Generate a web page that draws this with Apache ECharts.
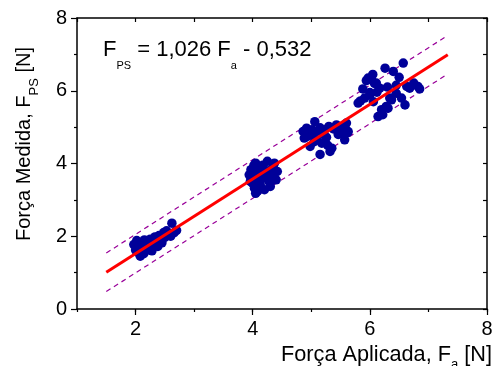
<!DOCTYPE html>
<html>
<head>
<meta charset="utf-8">
<script src="https://cdn.jsdelivr.net/npm/echarts@6/dist/echarts.min.js"></script>
<style>
  html, body { margin: 0; padding: 0; background: #fff; }
  #chart { width: 493px; height: 366px; }
</style>
</head>
<body>
<div id="chart"></div>
<script>
// medições (força aplicada x força medida), agrupadas por patamar
const applied2 = [1.97, 2.0, 2.02, 2.03, 2.05, 2.08, 2.1, 2.12, 2.15, 2.17, 2.2, 2.22, 2.25, 2.27, 2.3, 2.33, 2.35, 2.38, 2.4, 2.43, 2.45, 2.48, 2.5, 2.53, 2.56, 2.6, 2.62, 2.66, 2.7, 2.06, 2.14, 2.28];
const measured2 = [1.77, 1.62, 1.88, 1.70, 1.55, 1.45, 1.80, 1.66, 1.90, 1.75, 1.62, 1.85, 1.92, 1.70, 1.78, 1.98, 1.85, 1.72, 2.02, 1.94, 1.82, 2.10, 1.97, 2.15, 2.05, 2.00, 2.36, 2.10, 2.16, 1.68, 1.52, 1.60];

const applied4 = [3.94, 3.96, 3.97, 3.99, 4.0, 4.02, 4.03, 4.05, 4.06, 4.08, 4.1, 4.12, 4.13, 4.15, 4.17, 4.2, 4.22, 4.25, 4.27, 4.3, 4.32, 4.35, 4.37, 4.4, 4.42, 4.05, 4.12, 4.18, 4.28, 4.08];
const measured4 = [3.69, 3.51, 3.83, 3.60, 3.45, 3.95, 3.32, 4.01, 3.70, 3.23, 3.55, 3.85, 3.40, 3.70, 3.95, 3.28, 3.60, 4.06, 3.80, 3.37, 3.65, 3.90, 4.01, 3.55, 3.78, 3.18, 3.48, 3.85, 3.50, 3.62];

const applied5 = [4.86, 4.88, 4.92, 4.92, 4.95, 4.98, 5.01, 5.03, 5.06, 5.09, 5.12, 5.15, 5.18, 5.2, 5.23, 5.26, 5.3, 5.32, 5.35, 5.38, 5.43, 5.46, 5.49, 5.52, 5.57, 5.6, 5.63, 5.05, 5.15, 5.28, 5.54, 5.62];
const measured5 = [4.88, 4.70, 4.74, 4.97, 4.85, 4.47, 4.93, 4.78, 5.15, 4.65, 4.90, 4.25, 4.56, 4.80, 4.93, 4.72, 5.02, 4.33, 4.42, 4.95, 5.06, 4.80, 4.93, 5.00, 4.65, 5.11, 4.88, 4.60, 4.98, 4.50, 4.83, 4.85];

const applied6 = [5.80, 5.84, 5.88, 5.91, 5.94, 5.97, 6.0, 6.03, 6.06, 6.08, 6.11, 6.14, 6.17, 6.2, 6.22, 6.26, 6.28, 6.31, 6.34, 6.37, 6.4, 6.45, 6.5, 6.54, 6.57, 6.6, 6.63, 6.68, 6.75, 6.82, 6.85, 6.0, 6.12, 6.3, 6.45, 6.05];
const measured6 = [5.66, 5.72, 6.05, 5.80, 6.28, 6.35, 5.95, 6.30, 5.70, 6.20, 6.21, 5.29, 6.07, 5.48, 5.34, 6.62, 5.57, 5.52, 5.80, 5.75, 6.53, 5.93, 6.37, 5.80, 6.76, 5.61, 6.12, 6.07, 6.21, 6.12, 6.05, 5.88, 5.96, 6.10, 6.15, 6.45];

// reta ajustada e limites (extremos)
const fitX = [1.5, 7.33];
const fitY = [1.01, 6.99];
const upperY = [1.54, 7.52];
const lowerY = [0.48, 6.46];

const xTickLabels = [2, 4, 6, 8];
const yTickLabels = [0, 2, 4, 6, 8];

const pairs = (xs, ys) => xs.map((x, i) => [x, ys[i]]);

const FONT = '"Liberation Sans", Arial, sans-serif';
const DOT_COLOR = '#000099';

// texto com subscrito: m = normal (alinhado em cima), s = subscrito (alinhado embaixo)
// drop = quanto a linha de base do subscrito desce em relação à do texto normal
const subRich = (main, sub, drop) => ({
  m: { fontSize: main, fontFamily: FONT, fill: '#000', verticalAlign: 'top', lineHeight: main },
  s: {
    fontSize: sub, fontFamily: FONT, fill: '#000', verticalAlign: 'bottom',
    lineHeight: drop + 0.2 * sub + 0.8 * main,
  },
});

const chart = echarts.init(document.getElementById('chart'));

const scatter = (xs, ys) => ({
  type: 'scatter',
  data: pairs(xs, ys),
  symbolSize: 9.5,
  itemStyle: { color: DOT_COLOR, opacity: 1 },
  z: 3,
});

const limitLine = (ys) => ({
  type: 'line',
  data: pairs(fitX, ys),
  symbol: 'none',
  lineStyle: { color: '#990099', width: 1.2, type: [5, 4] },
  z: 2,
});

const frame = { lineStyle: { color: '#000', width: 1.5 } };
const tickStyle = { color: '#000', width: 1.2 };
const labelStyle = { color: '#000', fontSize: 20, fontFamily: FONT, margin: 10 };

chart.setOption({
  animation: false,
  grid: { left: 77, top: 18, right: 6, bottom: 57, outerBoundsMode: 'none' },
  xAxis: [
    {
      type: 'value', min: 1, max: 8, interval: 1, position: 'bottom',
      axisLine: { show: true, ...frame },
      axisTick: { show: true, length: 3, lineStyle: tickStyle },
      axisLabel: { ...labelStyle, formatter: (v) => (xTickLabels.includes(v) ? String(v) : '') },
      splitLine: { show: false },
    },
    {
      type: 'value', min: 1, max: 8, position: 'bottom',
      axisLine: { show: false },
      axisTick: { show: true, length: 6, customValues: xTickLabels, lineStyle: tickStyle },
      axisLabel: { show: false },
      splitLine: { show: false },
    },
    {
      type: 'value', min: 1, max: 8, interval: 1, position: 'top',
      axisLine: { show: true, ...frame },
      axisTick: { show: true, inside: true, length: 4, lineStyle: tickStyle },
      axisLabel: { show: false },
      splitLine: { show: false },
    },
  ],
  yAxis: [
    {
      type: 'value', min: 0, max: 8, interval: 2, position: 'left',
      axisLine: { show: true, ...frame },
      axisTick: { show: true, length: 6, lineStyle: tickStyle },
      minorTick: { show: true, splitNumber: 2, length: 3, lineStyle: tickStyle },
      axisLabel: { ...labelStyle, formatter: (v) => (yTickLabels.includes(v) ? String(v) : '') },
      splitLine: { show: false },
    },
    {
      type: 'value', min: 0, max: 8, interval: 1, position: 'right',
      axisLine: { show: true, ...frame },
      axisTick: { show: true, inside: true, length: 4, lineStyle: tickStyle },
      axisLabel: { show: false },
      splitLine: { show: false },
    },
  ],
  graphic: [
    {
      type: 'text', left: 103, top: 39,
      style: {
        text: '{m|F}{s|PS}{m| = 1,026 F}{s|a}{m| - 0,532}',
        fontSize: 22, fontFamily: FONT,
        rich: subRich(22, 11, 12.5),
      },
    },
    {
      type: 'text', x: 27.5, y: 144, rotation: Math.PI / 2,
      style: {
        text: '{m|Força Medida, F}{s|PS}{m| [N]}',
        fontSize: 20, fontFamily: FONT,
        align: 'center', verticalAlign: 'middle',
        rich: subRich(20, 13, 8),
      },
    },
    {
      type: 'text', left: 281, top: 344.3,
      style: {
        text: '{m|Força Aplicada, F}{s|a}{m| [N]}',
        fontSize: 21.7, fontFamily: FONT,
        rich: subRich(21.7, 13, 7),
      },
    },
  ],
  series: [
    scatter(applied2, measured2),
    scatter(applied4, measured4),
    scatter(applied5, measured5),
    scatter(applied6, measured6),
    limitLine(upperY),
    limitLine(lowerY),
    {
      type: 'line',
      data: pairs(fitX, fitY),
      symbol: 'none',
      lineStyle: { color: '#ff0000', width: 3 },
      z: 4,
    },
  ],
});

window.addEventListener('resize', () => chart.resize());
</script>
</body>
</html>
